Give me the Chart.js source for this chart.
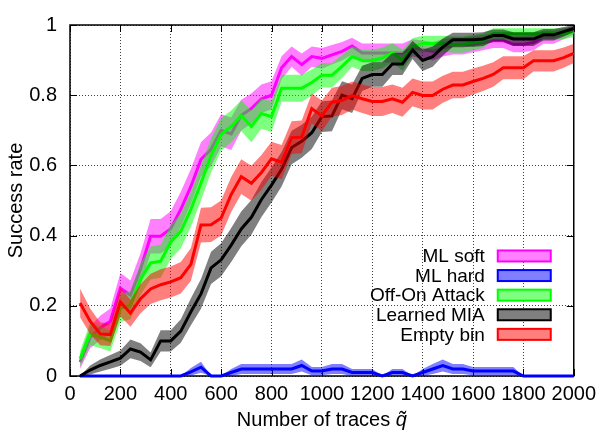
<!DOCTYPE html>
<html>
<head>
<meta charset="utf-8">
<script src="https://cdn.jsdelivr.net/npm/chart.js@4/dist/chart.umd.min.js"></script>
<style>
  html, body { margin: 0; padding: 0; background: #fff; }
  #wrap { width: 602px; height: 434px; }
</style>
</head>
<body>
<div id="wrap"><canvas id="c" width="602" height="434"></canvas></div>
<script>
// Success rate vs number of traces, with shaded confidence bands

const traces = [40, 80, 120, 160, 200, 240, 280, 320, 360, 400,
  440, 480, 520, 560, 600, 640, 680, 720, 760, 800,
  840, 880, 920, 960, 1000, 1040, 1080, 1120, 1160, 1200,
  1240, 1280, 1320, 1360, 1400, 1440, 1480, 1520, 1560, 1600,
  1640, 1680, 1720, 1760, 1800, 1840, 1880, 1920, 1960, 2000];

const mlSoft = [0.04, 0.11, 0.137, 0.156, 0.25, 0.23, 0.304, 0.398, 0.398, 0.42,
  0.475, 0.54, 0.617, 0.646, 0.70, 0.69, 0.743, 0.762, 0.79, 0.80,
  0.878, 0.91, 0.887, 0.91, 0.905, 0.915, 0.925, 0.94, 0.92, 0.92,
  0.92, 0.92, 0.92, 0.935, 0.93, 0.925, 0.935, 0.94, 0.94, 0.945,
  0.95, 0.955, 0.955, 0.945, 0.945, 0.95, 0.965, 0.965, 0.975, 0.985];

const mlHard = [0, 0, 0, 0, 0, 0, 0, 0, 0, 0,
  0, 0.012, 0.025, 0, 0, 0.01, 0.02, 0.02, 0.02, 0.02,
  0.02, 0.02, 0.03, 0.014, 0.014, 0.02, 0.02, 0.01, 0.01, 0.01,
  0, 0.01, 0.01, 0, 0.01, 0.02, 0.03, 0.02, 0.02, 0.014,
  0.014, 0.014, 0.014, 0.014, 0, 0, 0, 0, 0, 0];

const offOn = [0.049, 0.12, 0.111, 0.10, 0.193, 0.202, 0.276, 0.322, 0.327, 0.382,
  0.413, 0.475, 0.55, 0.628, 0.688, 0.711, 0.742, 0.711, 0.748, 0.739,
  0.82, 0.82, 0.82, 0.836, 0.857, 0.857, 0.882, 0.91, 0.899, 0.899,
  0.906, 0.921, 0.90, 0.938, 0.947, 0.947, 0.947, 0.944, 0.944, 0.95,
  0.955, 0.975, 0.975, 0.975, 0.975, 0.975, 0.975, 0.975, 0.975, 0.98];

const learnedMia = [0, 0.017, 0.03, 0.04, 0.051, 0.077, 0.068, 0.046, 0.10, 0.10,
  0.128, 0.183, 0.234, 0.308, 0.331, 0.373, 0.419, 0.452, 0.503, 0.544,
  0.589, 0.651, 0.669, 0.693, 0.739, 0.741, 0.80, 0.79, 0.848, 0.859,
  0.859, 0.889, 0.889, 0.929, 0.899, 0.91, 0.937, 0.958, 0.958, 0.958,
  0.96, 0.97, 0.97, 0.96, 0.96, 0.96, 0.972, 0.972, 0.981, 0.99];

const emptyBin = [0.208, 0.156, 0.12, 0.118, 0.211, 0.179, 0.22, 0.248, 0.26, 0.268,
  0.28, 0.318, 0.43, 0.431, 0.45, 0.517, 0.568, 0.549, 0.58, 0.619,
  0.609, 0.679, 0.681, 0.762, 0.741, 0.78, 0.785, 0.799, 0.79, 0.782,
  0.782, 0.79, 0.78, 0.808, 0.799, 0.799, 0.817, 0.829, 0.829, 0.839,
  0.848, 0.859, 0.878, 0.878, 0.878, 0.898, 0.898, 0.898, 0.907, 0.919];

const seriesNames = ['ML soft', 'ML hard', 'Off-On Attack', 'Learned MIA', 'Empty bin'];
const seriesValues = [mlSoft, mlHard, offOn, learnedMia, emptyBin];
const lineColors = ['#ff00ff', '#0000ff', '#00ff00', '#000000', '#ff0000'];
const bandColors = ['rgba(255,0,255,0.5)', 'rgba(0,0,255,0.5)', 'rgba(0,255,0,0.5)',
  'rgba(0,0,0,0.5)', 'rgba(255,0,0,0.5)'];

const yTicks = [0, 0.2, 0.4, 0.6, 0.8, 1];
const xTicks = [0, 200, 400, 600, 800, 1000, 1200, 1400, 1600, 1800, 2000];

// binomial confidence band around each success rate
const bandScale = 0.1;
function band(p, sign) {
  const v = p + sign * bandScale * Math.sqrt(p * (1 - p));
  return Math.min(1, Math.max(0, v));
}

const FONT = '"Liberation Sans", Arial, Helvetica, sans-serif';
Chart.defaults.font.family = FONT;
Chart.defaults.color = '#000';

const datasets = [];
seriesValues.forEach(function (vals, s) {
  const base = 100 - s * 10; // later series drawn on top
  datasets.push({
    label: seriesNames[s] + ' low',
    data: traces.map((t, i) => ({ x: t, y: band(vals[i], -1) })),
    borderColor: 'rgba(0,0,0,0)', borderWidth: 1, pointRadius: 0,
    fill: false, order: base
  });
  datasets.push({
    label: seriesNames[s] + ' high',
    data: traces.map((t, i) => ({ x: t, y: band(vals[i], 1) })),
    borderColor: 'rgba(0,0,0,0)', borderWidth: 1, pointRadius: 0,
    backgroundColor: bandColors[s], fill: '-1', order: base - 1
  });
  datasets.push({
    label: seriesNames[s],
    data: traces.map((t, i) => ({ x: t, y: vals[i] })),
    borderColor: lineColors[s], borderWidth: 3, pointRadius: 0,
    fill: false, order: base - 2, clip: 6
  });
});

// frame and inward tick marks, drawn below the lines like gnuplot
const framePlugin = {
  id: 'frame',
  beforeDatasetsDraw(chart) {
    const { ctx, chartArea: a, scales } = chart;
    ctx.save();
    ctx.strokeStyle = '#000';
    ctx.lineWidth = 1.5;
    ctx.strokeRect(a.left, a.top, a.right - a.left, a.bottom - a.top);
    ctx.lineWidth = 1;
    const len = 7;
    ctx.beginPath();
    scales.y.ticks.forEach(function (t) {
      const y = Math.round(scales.y.getPixelForValue(t.value)) + 0.5;
      ctx.moveTo(a.left, y); ctx.lineTo(a.left + len, y);
      ctx.moveTo(a.right, y); ctx.lineTo(a.right - len, y);
    });
    scales.x.ticks.forEach(function (t) {
      const x = Math.round(scales.x.getPixelForValue(t.value)) + 0.5;
      ctx.moveTo(x, a.bottom); ctx.lineTo(x, a.bottom - len);
      ctx.moveTo(x, a.top); ctx.lineTo(x, a.top + len);
    });
    ctx.stroke();
    ctx.restore();
  }
};

// legend inside the plot (text right aligned, key box on the right) and x title
const legendPlugin = {
  id: 'insideLegend',
  afterDraw(chart) {
    const { ctx, chartArea: a, scales } = chart;
    ctx.save();
    ctx.font = '19px ' + FONT;
    ctx.textAlign = 'right';
    ctx.textBaseline = 'middle';
    const textRight = a.right - 89;
    const boxLeft = a.right - 76;
    const boxW = 53, boxH = 11;
    const y0 = scales.y.getPixelForValue(0.342);
    const step = 19.6;
    seriesNames.forEach(function (name, s) {
      const y = y0 + s * step;
      ctx.fillStyle = '#000';
      ctx.fillText(name, textRight, y + 1);
      ctx.fillStyle = '#fff';
      ctx.fillRect(boxLeft, y - boxH / 2, boxW, boxH);
      ctx.fillStyle = bandColors[s];
      ctx.fillRect(boxLeft, y - boxH / 2, boxW, boxH);
      ctx.strokeStyle = lineColors[s];
      ctx.lineWidth = 2;
      ctx.strokeRect(boxLeft, y - boxH / 2, boxW, boxH);
    });

    // x axis title with italic q-tilde
    const part1 = 'Number of traces ';
    const part2 = 'q\u0303';
    ctx.font = '20px ' + FONT;
    const w1 = ctx.measureText(part1).width;
    ctx.font = 'italic 20px ' + FONT;
    const w2 = ctx.measureText(part2).width;
    const cx = (a.left + a.right) / 2;
    const ty = 420;
    ctx.textAlign = 'left';
    ctx.fillStyle = '#000';
    ctx.font = '20px ' + FONT;
    ctx.fillText(part1, cx - (w1 + w2) / 2, ty);
    ctx.font = 'italic 20px ' + FONT;
    ctx.fillText(part2, cx - (w1 + w2) / 2 + w1, ty);
    ctx.restore();
  }
};

new Chart(document.getElementById('c'), {
  type: 'line',
  data: { datasets: datasets },
  options: {
    responsive: false,
    animation: false,
    events: [],
    layout: { padding: { top: 16, right: 25, left: 0, bottom: 0 } },
    plugins: {
      legend: { display: false },
      tooltip: { enabled: false }
    },
    scales: {
      x: {
        type: 'linear',
        min: 0, max: 2000,
        afterFit(scale) { scale.height = 58; },
        afterBuildTicks(scale) { scale.ticks = xTicks.map(v => ({ value: v })); },
        ticks: {
          autoSkip: false, maxRotation: 0, padding: 6,
          font: { size: 20 }, color: '#000',
          callback: v => String(v)
        },
        grid: { color: 'rgba(0,0,0,0.75)', lineWidth: 1, drawTicks: false },
        border: { display: false, dash: [1, 2] }
      },
      y: {
        type: 'linear',
        min: 0, max: 1,
        afterFit(scale) { scale.width = 70; },
        afterBuildTicks(scale) { scale.ticks = yTicks.map(v => ({ value: v })); },
        ticks: {
          padding: 13, font: { size: 20 }, color: '#000',
          callback: v => String(Math.round(v * 10) / 10)
        },
        grid: { color: 'rgba(0,0,0,0.75)', lineWidth: 1, drawTicks: false },
        border: { display: false, dash: [1, 2] },
        title: {
          display: true, text: 'Success rate', color: '#000',
          font: { size: 20 }, padding: { top: 4, bottom: 0 }
        }
      }
    }
  },
  plugins: [framePlugin, legendPlugin]
});
</script>
</body>
</html>
